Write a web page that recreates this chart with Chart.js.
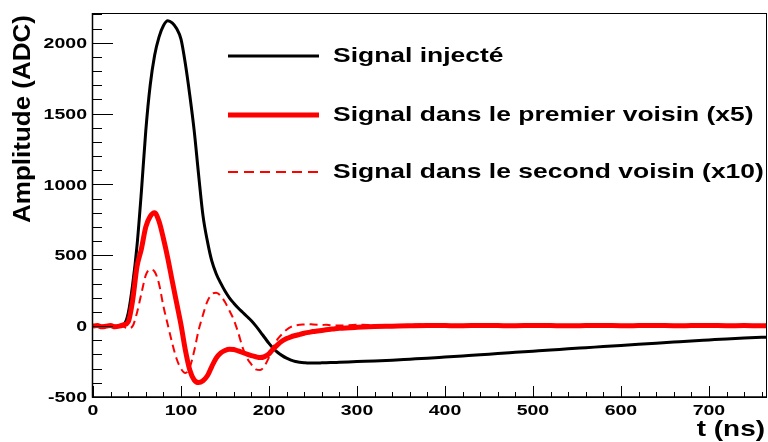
<!DOCTYPE html>
<html>
<head>
<meta charset="utf-8">
<script src="https://cdn.jsdelivr.net/npm/chart.js@4.4.0/dist/chart.umd.min.js"></script>
<style>
  html, body { margin: 0; padding: 0; background: #fff; }
  #wrap { width: 768px; height: 442px; position: relative; }
</style>
</head>
<body>
<div id="wrap"><canvas id="chart"></canvas></div>
<script>
// temps (ns)
const times = [
  0, 5, 10, 15, 20, 25, 30, 35, 40, 45, 50, 55, 60, 65, 70, 75, 80, 85, 90, 95,
  100, 105, 110, 115, 120, 125, 130, 135, 140, 145, 150, 155, 160, 165, 170, 175, 180, 185, 190, 195,
  200, 205, 210, 215, 220, 225, 230, 235, 240, 245, 250, 255, 260, 265, 270, 275, 280,
  300, 320, 340, 360, 380, 400, 420, 440, 460, 480, 500, 520, 540, 560, 580, 600,
  620, 640, 660, 680, 700, 720, 740, 760, 766
];

// Signal injecté (ADC)
const injecte = [
  0, 0, 0, 0, 0, 0, 0, 10, 90, 290, 566, 950, 1380, 1700, 1910, 2040, 2120, 2155, 2140, 2100,
  2025, 1850, 1630, 1380, 1070, 780, 600, 460, 370, 305, 248, 200, 162, 128, 98, 68, 38, 2, -38, -80,
  -122, -158, -186, -208, -226, -240, -250, -255, -258, -260, -260, -260, -259, -258, -257, -256, -255,
  -250, -246, -240, -233, -226, -218, -210, -202, -193, -185, -177, -169, -160, -152, -144, -136,
  -128, -120, -112, -104, -97, -90, -84, -79, -78
];

// Signal dans le premier voisin (x5)
const premier = [
  0, 5, -5, 0, 5, -5, 0, 10, 30, 180, 420, 545, 700, 775, 800, 740, 620, 480, 320, 165,
  10, -170, -310, -380, -398, -385, -350, -285, -225, -190, -172, -163, -165, -175, -186, -198, -208, -216, -222, -215,
  -195, -160, -130, -105, -88, -75, -66, -58, -50, -44, -38, -34, -30, -26, -22, -18, -15,
  -8, -3, 0, 3, 5, 4, 3, 5, 4, 3, 5, 4, 3, 4, 5, 3,
  4, 5, 3, 4, 5, 3, 4, 3, 4
];

// Signal dans le second voisin (x10)
const second = [
  0, -5, 5, 0, -5, 5, 0, -5, -15, 0, 95, 230, 360, 400, 385, 300, 141, 10, -120, -230,
  -300, -330, -290, -175, -30, 80, 175, 225, 236, 215, 170, 110, 45, -45, -150, -225, -270, -305, -310, -280,
  -220, -145, -90, -55, -25, -5, 5, 10, 12, 14, 12, 10, 8, 10, 6, 5, 4,
  10, 8, 6, 10, 15, 10, 8, 6, 5, 8, 6, 5, 7, 5, 6, 4,
  5, 6, 4, 5, 6, 4, 5, 4, 5
];

const seriesNames = [
  "Signal injecté",
  "Signal dans le premier voisin (x5)",
  "Signal dans le second voisin (x10)"
];
const xTickLabels = [0, 100, 200, 300, 400, 500, 600, 700];
const yTickLabels = [-500, 0, 500, 1000, 1500, 2000];
const xTitle = "t (ns)";
const yTitle = "Amplitude (ADC)";

const FONT = '"Liberation Sans", Arial, Helvetica, sans-serif';
const toPoints = (vals) => times.map((t, i) => ({ x: t, y: vals[i] }));

// texte étiré horizontalement (l'image d'origine est élargie)
function drawText(ctx, str, x, y, size, sx, align, baseline) {
  ctx.save();
  ctx.translate(x, y);
  ctx.scale(sx, 1);
  ctx.font = "bold " + size + "px " + FONT;
  ctx.fillStyle = "#000";
  ctx.textAlign = align;
  ctx.textBaseline = baseline || "alphabetic";
  ctx.fillText(str, 0, 0);
  ctx.restore();
}

const rootAxes = {
  id: "rootAxes",
  beforeDraw(chart) {
    const ctx = chart.ctx;
    ctx.save();
    ctx.fillStyle = "#fff";
    ctx.fillRect(0, 0, chart.width, chart.height);
    ctx.restore();
  },
  afterDraw(chart) {
    const ctx = chart.ctx;
    const a = chart.chartArea;
    const xs = chart.scales.x;
    const ys = chart.scales.y;

    ctx.save();
    // cadre
    ctx.strokeStyle = "#000";
    ctx.lineWidth = 1;
    ctx.strokeRect(a.left - 0.5, a.top + 0.5, a.right - a.left, a.bottom - a.top);
    ctx.lineWidth = 1.5;
    ctx.beginPath();
    ctx.moveTo(a.left - 0.5, a.top);
    ctx.lineTo(a.left - 0.5, a.bottom);
    ctx.lineTo(a.right, a.bottom);
    ctx.stroke();

    // graduations vers l'intérieur
    ctx.lineWidth = 1;
    ctx.beginPath();
    for (let v = ys.min; v <= ys.max; v += 100) {
      const p = Math.round(ys.getPixelForValue(v)) + 0.5;
      const len = (v % 500 === 0) ? 20 : 9;
      ctx.moveTo(a.left, p);
      ctx.lineTo(a.left + len, p);
    }
    for (let v = 0; v <= xs.max; v += 20) {
      const p = Math.round(xs.getPixelForValue(v)) + 0.5;
      const len = (v % 100 === 0) ? 11 : 5;
      ctx.moveTo(p, a.bottom);
      ctx.lineTo(p, a.bottom - len);
    }
    ctx.stroke();
    ctx.restore();

    // étiquettes
    yTickLabels.forEach((v) => {
      drawText(ctx, String(v), a.left - 6, ys.getPixelForValue(v) + 1, 15, 1.3, "right", "middle");
    });
    xTickLabels.forEach((v) => {
      drawText(ctx, String(v), xs.getPixelForValue(v), a.bottom + 18, 15, 1.3, "center", "alphabetic");
    });

    // titres des axes
    drawText(ctx, xTitle, 765, 436, 22, 1.27, "right", "alphabetic");
    ctx.save();
    ctx.translate(30, 15);
    ctx.rotate(-Math.PI / 2);
    ctx.scale(1, 0.9);
    ctx.font = "bold 26px " + FONT;
    ctx.fillStyle = "#000";
    ctx.textAlign = "right";
    ctx.textBaseline = "alphabetic";
    ctx.fillText(yTitle, 0, 0);
    ctx.restore();

    // légende
    const rows = [
      { ds: 2, y: 56 },
      { ds: 0, y: 115 },
      { ds: 1, y: 172 }
    ];
    rows.forEach((r) => {
      const d = chart.data.datasets[r.ds];
      ctx.save();
      ctx.strokeStyle = d.borderColor;
      ctx.lineWidth = d.borderWidth;
      ctx.setLineDash(d.borderDash ? [10, 6] : []);
      ctx.beginPath();
      ctx.moveTo(228, r.y);
      ctx.lineTo(319, r.y);
      ctx.stroke();
      ctx.restore();
      drawText(ctx, d.label, 333, r.y + 6, 21, 1.26, "left", "alphabetic");
    });
  }
};

new Chart(document.getElementById("chart"), {
  type: "line",
  data: {
    datasets: [
      {
        label: seriesNames[1],
        data: toPoints(premier),
        borderColor: "#ff0000",
        borderWidth: 5,
        order: 0
      },
      {
        label: seriesNames[2],
        data: toPoints(second),
        borderColor: "#ff0000",
        borderWidth: 2,
        borderDash: [8, 5],
        order: 1
      },
      {
        label: seriesNames[0],
        data: toPoints(injecte),
        borderColor: "#000000",
        borderWidth: 3,
        order: 2
      }
    ]
  },
  options: {
    responsive: true,
    maintainAspectRatio: false,
    animation: false,
    layout: { padding: { left: 93, top: 13, right: 1, bottom: 45 } },
    elements: {
      point: { radius: 0 },
      line: { cubicInterpolationMode: "monotone", fill: false }
    },
    plugins: {
      legend: { display: false },
      tooltip: { enabled: false }
    },
    scales: {
      x: { type: "linear", min: 0, max: 766, display: false },
      y: { type: "linear", min: -500, max: 2210, display: false }
    }
  },
  plugins: [rootAxes]
});
</script>
</body>
</html>
